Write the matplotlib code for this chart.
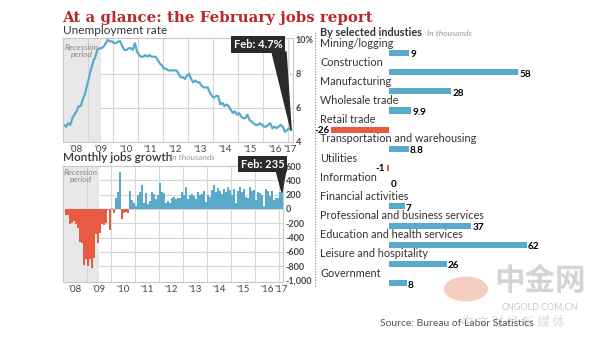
import numpy as np
import matplotlib.pyplot as plt
from matplotlib.patches import Polygon, Circle
from matplotlib.lines import Line2D
import matplotlib.transforms as mtransforms

plt.rcParams['font.family'] = ['Lato', 'DejaVu Sans']

# unemployment rate, Jan 2008 - Feb 2017 (%)
unemp = [5.0, 4.9, 5.1, 5.0, 5.4, 5.6, 5.8, 6.1, 6.1, 6.5, 6.8, 7.3,
         7.8, 8.3, 8.7, 9.0, 9.4, 9.5, 9.5, 9.6, 9.8, 10.0, 9.9, 9.9,
         9.8, 9.8, 9.9, 9.9, 9.6, 9.4, 9.4, 9.5, 9.5, 9.4, 9.8, 9.3,
         9.1, 9.0, 9.0, 9.1, 9.0, 9.1, 9.0, 9.0, 9.0, 8.8, 8.6, 8.5,
         8.3, 8.3, 8.2, 8.2, 8.2, 8.2, 8.2, 8.0, 7.8, 7.8, 7.7, 7.9,
         8.0, 7.7, 7.5, 7.6, 7.5, 7.5, 7.3, 7.2, 7.2, 7.2, 6.9, 6.7,
         6.6, 6.7, 6.7, 6.2, 6.3, 6.1, 6.2, 6.1, 5.9, 5.7, 5.8, 5.6,
         5.7, 5.5, 5.4, 5.4, 5.6, 5.3, 5.2, 5.1, 5.0, 5.0, 5.1, 5.0,
         4.9, 4.9, 5.0, 5.1, 4.8, 4.9, 4.8, 4.9, 5.0, 4.9, 4.6, 4.7,
         4.8, 4.7]

# monthly jobs growth, thousands
jobs = [-5, -90, -80, -210, -190, -170, -210, -270, -460, -480, -780, -700,
        -790, -700, -830, -690, -350, -470, -330, -210, -220, -200, -10, -290,
        20, -60, 160, 240, 510, -140, -60, -40, -50, 250, 120, 90,
        40, 190, 230, 340, 80, 220, 70, 110, 240, 210, 140, 200,
        360, 230, 220, 80, 110, 90, 150, 170, 140, 150, 150, 230,
        190, 310, 140, 190, 210, 180, 140, 240, 190, 210, 250, 100,
        190, 170, 270, 330, 240, 290, 250, 210, 280, 230, 310, 260,
        200, 280, 80, 250, 300, 230, 280, 170, 150, 300, 250, 270,
        130, 240, 220, 190, 40, 280, 250, 180, 250, 130, 160, 160,
        240, 235]

industries = ['Mining/logging', 'Construction', 'Manufacturing', 'Wholesale trade',
              'Retail trade', 'Transportation and warehousing', 'Utilities',
              'Information', 'Financial activities', 'Professional and business services',
              'Education and health services', 'Leisure and hospitality', 'Government']
ind_values = [9, 58, 28, 9.9, -26, 8.8, -1, 0, 7, 37, 62, 26, 8]
ind_labels = ['9', '58', '28', '9.9', '-26', '8.8', '-1', '0', '7', '37', '62', '26', '8']

year_labels = ["'08", "'09", "'10", "'11", "'12", "'13", "'14", "'15", "'16", "'17"]
year_pos = [2008.5, 2009.5, 2010.5, 2011.5, 2012.5, 2013.5, 2014.5, 2015.5, 2016.5, 2017.1]

BLUE = '#5aaacb'
RED = '#e85a42'
GRID = '#d6d6d6'
TXT = '#333333'

months = 2008 + np.arange(len(unemp)) / 12 + 1 / 24

fig = plt.figure(figsize=(6, 3.38), dpi=100)
W, H = 600, 338


def px(x0, y0, x1, y1):
    return [x0 / W, 1 - y1 / H, (x1 - x0) / W, (y1 - y0) / H]


fig.text(62 / W, 1 - 18 / H, 'At a glance: the February jobs report', family='DejaVu Serif',
         weight='bold', color='#b8272c', fontsize=10.8, va='center')


def style_axis(ax):
    for s in ax.spines.values():
        s.set_color('#c8c8c8')
        s.set_linewidth(0.8)
    ax.set_xticks(range(2009, 2018), minor=True)
    ax.set_xticks(year_pos, year_labels)
    ax.grid(True, which='minor', axis='x', color=GRID, lw=0.8)
    ax.tick_params(which='both', length=0)
    ax.tick_params(axis='x', labelsize=7, colors='#444444', pad=2)
    ax.tick_params(axis='y', labelsize=6.5, colors='#444444', pad=2)
    ax.yaxis.tick_right()
    for t in ax.get_yticklabels():
        t.set_fontweight('bold')
    ax.set_axisbelow(True)
    ax.axvspan(2008, 2009.5, color='#e8e8e8', zorder=0, lw=0)


# unemployment panel
ax1 = fig.add_axes(px(63, 38, 293, 142))
ax1.plot(months, unemp, color=BLUE, lw=1.6)
ax1.set_xlim(2008, 2017.2)
ax1.set_ylim(4, 10.1)
ax1.set_yticks([4, 6, 8, 10], ['4', '6', '8', '10%'])
for v in [6, 8]:
    ax1.axhline(v, color=GRID, lw=0.8, zorder=0)
style_axis(ax1)
ax1.text(2008.75, 9.75, 'Recession\nperiod', style='italic', color='#888888', fontsize=6,
         ha='center', va='top', linespacing=0.95)
fig.text(63 / W, 1 - 31 / H, 'Unemployment rate', fontsize=8.5, color=TXT, va='center')

# jobs panel
ax2 = fig.add_axes(px(63, 166, 283, 282))
colors = [RED if v < 0 else BLUE for v in jobs]
ax2.bar(months, jobs, width=1 / 12 * 0.75, color=colors)
ax2.set_xlim(2008, 2017.17)
ax2.set_ylim(-1020, 600)
yt = list(range(-1000, 601, 200))
ax2.set_yticks(yt, [f'{v:,}' for v in yt])
for v in range(-800, 600, 200):
    ax2.axhline(v, color=GRID, lw=0.8, zorder=0)
style_axis(ax2)
ax2.text(2008.75, 560, 'Recession\nperiod', style='italic', color='#888888', fontsize=6,
         ha='center', va='top', linespacing=0.95)
fig.text(63 / W, 1 - 158 / H, 'Monthly jobs growth', fontsize=8.5, color=TXT,
         weight='semibold', va='center')
fig.text(170 / W, 1 - 158 / H, 'In thousands', fontsize=6, color='#999999',
         style='italic', va='center')


# callouts
def callout(ax, x, y, text, box, base):
    fig.canvas.draw()
    tip = ax.transData.transform((x, y))
    tip = (tip[0] / W, tip[1] / H)
    x0, y0, x1, y1 = box
    poly = Polygon([(base[0] / W, 1 - y1 / H), (base[1] / W, 1 - y1 / H), tip],
                   closed=True, transform=fig.transFigure, color='#2a2a2a', zorder=5)
    fig.add_artist(poly)
    fig.text((x0 + x1) / 2 / W, 1 - (y0 + y1) / 2 / H, text, color='white',
             fontsize=8, weight='bold', ha='center', va='center', zorder=6,
             bbox=dict(boxstyle='square,pad=0.25', fc='#2a2a2a', ec='none'))


callout(ax1, months[-1], unemp[-1], 'Feb: 4.7%', (229, 37, 287, 52), (272, 286))
callout(ax2, months[-1], jobs[-1], 'Feb: 235', (238, 158, 287, 170), (276, 286))

# industries panel
ax3 = fig.add_axes(px(315, 30, 600, 295))
ax3.axis('off')
ypos = np.arange(len(industries))
bcolors = [RED if v < 0 else BLUE for v in ind_values]
ax3.barh(ypos, ind_values, height=0.32, color=bcolors)
ax3.set_xlim(-33.3, 95)
ax3.set_ylim(12.62, -1.2)
tr = mtransforms.blended_transform_factory(ax3.transAxes, ax3.transData)
for i, (name, v, lab) in enumerate(zip(industries, ind_values, ind_labels)):
    ax3.text(0.018, i - 0.52, name, transform=tr, fontsize=7.8, color=TXT, va='center')
    if v > 0:
        ax3.text(v + 0.6, i + 0.1, lab, fontsize=7.2, weight='bold', va='center')
    elif v < 0:
        ax3.text(v - 0.6, i + 0.02, lab, fontsize=7.2, weight='bold', va='center', ha='right')
    else:
        ax3.text(2, i - 0.12, lab, fontsize=7.2, weight='bold', va='center', ha='center')

fig.add_artist(Line2D([315 / W, 315 / W], [1 - 32 / H, 1 - 287 / H], ls=(0, (1, 1.5)),
                      color='#888888', lw=0.8, transform=fig.transFigure))
fig.text(320 / W, 1 - 33 / H, 'By selected industies', fontsize=7.8, weight='bold',
         color=TXT, va='center')
fig.text(427 / W, 1 - 34 / H, 'In thousands', fontsize=6, style='italic',
         color='#999999', va='center')

# watermark
fig.add_artist(Circle((466 / W, 1 - 289 / H), 22 / W, transform=fig.transFigure,
                      color='#eda58e', alpha=0.55, lw=0))
fig.text(540 / W, 1 - 281 / H, '中金网', family=['Noto Sans CJK SC', 'DejaVu Sans'],
         fontsize=22, color='#d4d4d4', ha='center', va='center', weight='bold')
fig.text(540 / W, 1 - 307 / H, 'CNGOLD.COM.CN', fontsize=6.5, color='#c8c8c8',
         ha='center', va='center')
fig.text(513 / W, 1 - 322 / H, '中 文 财 经 新 媒 体', family=['Noto Sans CJK SC', 'DejaVu Sans'],
         fontsize=9, color='#dddddd', ha='center', va='center')

fig.text(457 / W, 1 - 323 / H, 'Source: Bureau of Labor Statistics', fontsize=7.5,
         color='#555555', ha='center', va='center')

fig.savefig('out.png', dpi=100)
